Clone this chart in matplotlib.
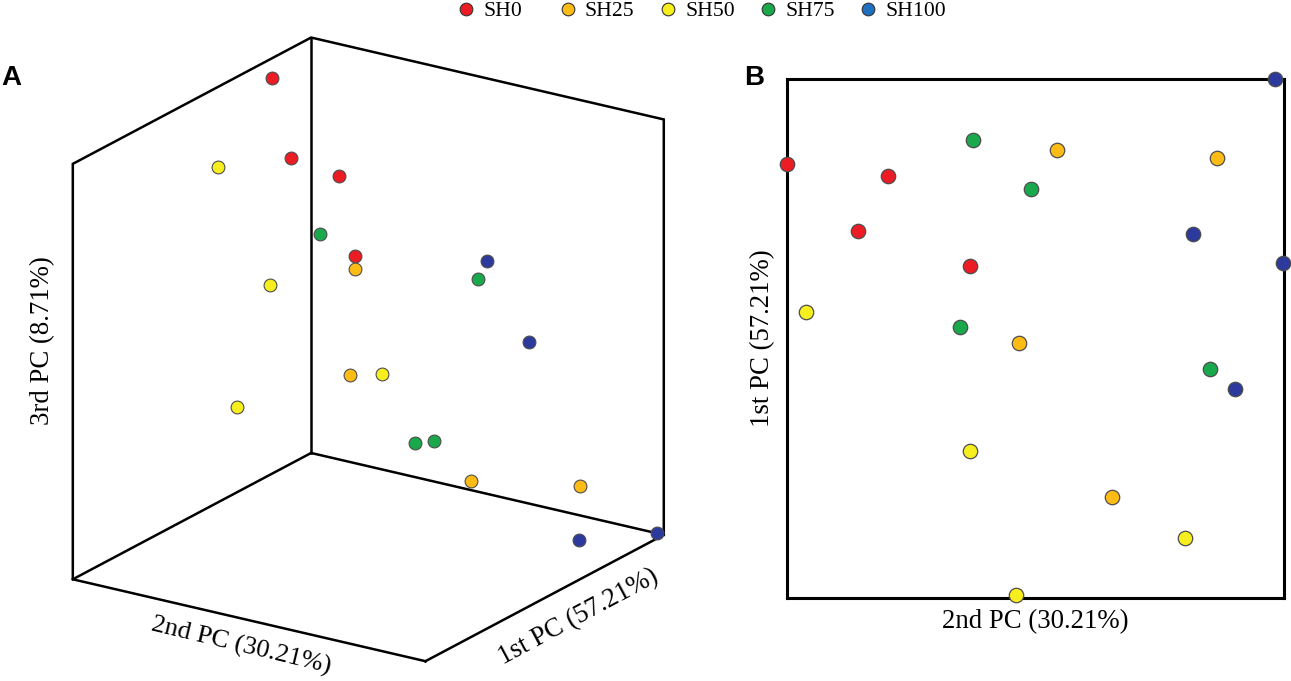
import numpy as np
import matplotlib
matplotlib.use("Agg")
import matplotlib.pyplot as plt
from matplotlib.lines import Line2D
from mpl_toolkits.mplot3d import proj3d

# ---------------- data (normalised PC scores, 0 = min, 1 = max) ----------------
groups = ["SH0", "SH25", "SH50", "SH75", "SH100"]
point_colors = ["#ec1c24", "#fdbb15", "#f7ee1e", "#1aa84c", "#2b3a9c"]
legend_colors = ["#ec1c24", "#fdbb15", "#f7ee1e", "#1aa84c", "#1f6fc0"]

SH0_PC1 = [0.837, 0.813, 0.706, 0.639]
SH0_PC2 = [0.000, 0.205, 0.143, 0.368]
SH0_PC3 = [0.951, 0.763, 0.827, 0.656]

SH25_PC1 = [0.864, 0.847, 0.491, 0.193]
SH25_PC2 = [0.544, 0.866, 0.468, 0.655]
SH25_PC3 = [0.082, 0.138, 0.690, 0.562]

SH50_PC1 = [0.551, 0.283, 0.114, 0.005]
SH50_PC2 = [0.039, 0.369, 0.800, 0.462]
SH50_PC3 = [0.833, 0.696, 0.618, 0.505]

SH75_PC1 = [0.882, 0.787, 0.522, 0.440]
SH75_PC2 = [0.375, 0.491, 0.349, 0.851]
SH75_PC3 = [0.135, 0.190, 0.742, 0.758]

SH100_PC1 = [1.000, 0.702, 0.646, 0.403]
SH100_PC2 = [0.982, 0.818, 0.998, 0.901]
SH100_PC3 = [0.000, 0.520, 0.095, 0.821]

pc1_label = "1st PC (57.21%)"
pc2_label = "2nd PC (30.21%)"
pc3_label = "3rd PC (8.71%)"

PC1 = [SH0_PC1, SH25_PC1, SH50_PC1, SH75_PC1, SH100_PC1]
PC2 = [SH0_PC2, SH25_PC2, SH50_PC2, SH75_PC2, SH100_PC2]
PC3 = [SH0_PC3, SH25_PC3, SH50_PC3, SH75_PC3, SH100_PC3]

# ---------------- figure ----------------
W, H = 1291, 681
plt.rcParams["font.family"] = ["Liberation Serif", "DejaVu Serif"]
fig = plt.figure(figsize=(W / 100, H / 100), dpi=100)

LABEL_FS = 19.3
EDGE = "#4d4d4d"

# ---------------- panel A : 3D PCA ----------------
ax3 = fig.add_axes([0.0, 0.0, 600 / W, 600 / H], projection="3d",
                   proj_type="ortho", computed_zorder=False)
ax3.view_init(elev=20.54, azim=-56.5)
ax3.set_box_aspect((424.5, 433.4, 445.3))
ax3.set_xlim(0, 1)
ax3.set_ylim(0, 1)
ax3.set_zlim(0, 1)
ax3.set_axis_off()

BL, FR, BK, BR = (0, 0, 0), (1, 0, 0), (0, 1, 0), (1, 1, 0)
TL, TB, TR = (0, 0, 1), (0, 1, 1), (1, 1, 1)
for path in ([FR, BL, TL, TB, TR, BR, FR], [BL, BK, BR], [BK, TB]):
    xs, ys, zs = zip(*path)
    ax3.plot(xs, ys, zs, color="black", lw=1.8, solid_joinstyle="miter", zorder=1)

for g, col, a, b, c in zip(groups, point_colors, PC1, PC2, PC3):
    ax3.scatter(b, a, c, s=85, c=col, edgecolors=EDGE, linewidths=0.8,
                depthshade=False, zorder=3)


def corner_px(ax, pt):
    x, y, _ = proj3d.proj_transform(pt[0], pt[1], pt[2], ax.get_proj())
    return np.array(ax.transData.transform((x, y)))


# place the cube: bottom-left-front corner and top-right corner
t1 = np.array([72.8, H - 579.3])
t2 = np.array([666.0, H - 122.3])
for _ in range(3):
    fig.canvas.draw()
    p1 = corner_px(ax3, BL)
    p2 = corner_px(ax3, TR)
    s = np.linalg.norm(t2 - t1) / np.linalg.norm(p2 - p1)
    bb = ax3.get_position()
    cx = (bb.x0 + bb.x1) / 2 * W
    cy = (bb.y0 + bb.y1) / 2 * H
    size = bb.width * W * s
    ncx = t1[0] - s * (p1[0] - cx)
    ncy = t1[1] - s * (p1[1] - cy)
    ax3.set_position([(ncx - size / 2) / W, (ncy - size / 2) / H, size / W, size / H])

fig.text(241 / W, 1 - 646 / H, pc2_label, fontsize=19, rotation=-13.4,
         rotation_mode="anchor", ha="center", va="center")
fig.text(578 / W, 1 - 617 / H, pc1_label, fontsize=LABEL_FS, rotation=28.2,
         rotation_mode="anchor", ha="center", va="center")
fig.text(43 / W, 1 - 341 / H, pc3_label, fontsize=LABEL_FS, rotation=90,
         ha="center", va="center")

# ---------------- panel B : PC1 vs PC2 ----------------
axb = fig.add_axes([786.5 / W, (H - 597.5) / H, 497.5 / W, 518.5 / H])
for g, col, a, b in zip(groups, point_colors, PC1, PC2):
    axb.scatter(b, a, s=108, c=col, edgecolors=EDGE, linewidths=0.9,
                zorder=3, clip_on=False)
axb.set_xlim(0, 1)
axb.set_ylim(0, 1)
axb.set_xticks([])
axb.set_yticks([])
for sp in axb.spines.values():
    sp.set_linewidth(2.2)
    sp.set_color("black")
axb.set_xlabel(pc2_label, fontsize=LABEL_FS, labelpad=8)
axb.set_ylabel(pc1_label, fontsize=LABEL_FS, labelpad=8)

# ---------------- panel letters ----------------
fig.text(1 / W, 1 - 85 / H, "A", fontsize=20, fontweight="bold",
         family="Liberation Sans", va="baseline", ha="left")
fig.text(744 / W, 1 - 85 / H, "B", fontsize=20, fontweight="bold",
         family="Liberation Sans", va="baseline", ha="left")

# ---------------- legend ----------------
LEG_FS = 15.6
fs_px = LEG_FS * 100 / 72
hl = 0.6
marker_x = [466.3, 567.7, 668.3, 768.3, 868.3]
for g, col, mx in zip(groups, legend_colors, marker_x):
    h = Line2D([], [], marker="o", ls="", markersize=9.1, markerfacecolor=col,
               markeredgecolor="#333333", markeredgewidth=0.8)
    left = mx - hl * fs_px / 2
    fig.legend(handles=[h], labels=[g], loc="center left",
               bbox_to_anchor=(left / W, 1 - 11 / H), frameon=False,
               borderpad=0, borderaxespad=0, handlelength=hl,
               handletextpad=(17 - hl * fs_px / 2) / fs_px, fontsize=LEG_FS)

fig.savefig("out.png", dpi=100)
